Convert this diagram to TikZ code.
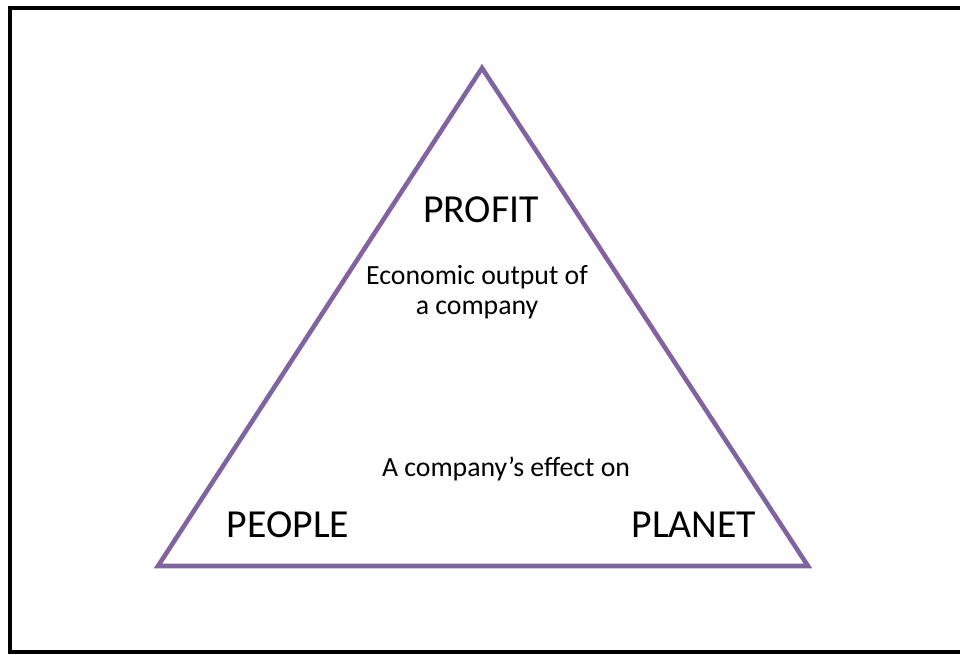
\documentclass[tikz,border=0pt]{standalone}
\usepackage{fontspec}
\setmainfont{Carlito}
\definecolor{tripurple}{RGB}{128,100,162}

\begin{document}
\begin{tikzpicture}[x=0.01cm,y=-0.01cm,
    bigword/.style={anchor=base,inner sep=0pt,font=\fontsize{11.3}{14}\selectfont},
    smallword/.style={anchor=base,inner sep=0pt,font=\fontsize{7.9}{10}\selectfont}]
      \useasboundingbox (0,0) rectangle (960,654);
      \draw[line width=1.4pt] (10,8) -- (970,8) -- (970,652) -- (10,652) -- cycle;

      \coordinate (apex)  at (482,68);
      \coordinate (left)  at (158,566);
      \coordinate (right) at (808,566);
      \draw[tripurple,line width=1.3pt,line join=miter] (apex) -- (left) -- (right) -- cycle;

      \draw (481,222) node [bigword] (profit) {PROFIT};
      \draw (477,284) node [smallword] (econ) {Economic output of};
      \draw (477,314) node [smallword] (comp) {a company};

      \draw (506,476) node [smallword] (effect) {A company’s effect on};
      \draw (288,537) node [bigword] (people) {PEOPLE};
      \draw (694,537) node [bigword] (planet) {PLANET};
   \end{tikzpicture}
\end{document}
